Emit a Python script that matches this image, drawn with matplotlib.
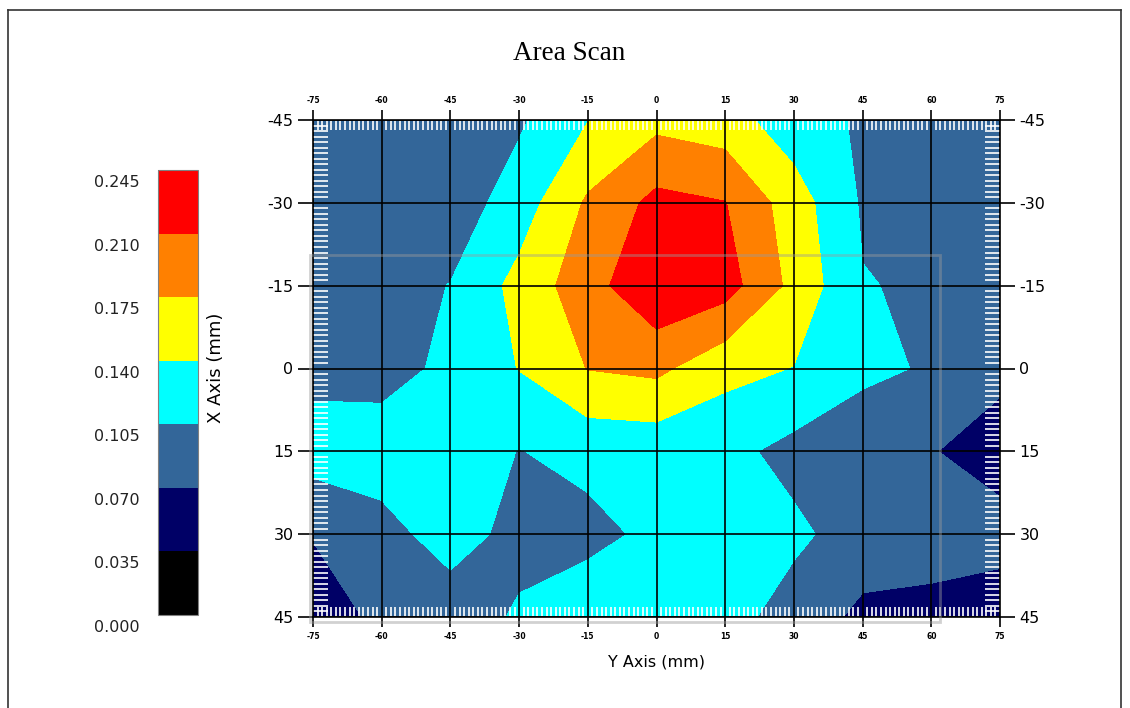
import numpy as np
import matplotlib
matplotlib.use("Agg")
from matplotlib import pyplot as plt
from matplotlib.ticker import MultipleLocator
from matplotlib.lines import Line2D
from matplotlib.patches import Rectangle

plt.rcParams['axes.unicode_minus'] = False

# scan positions (mm)
y_pos = [-75, -60, -45, -30, -15, 0, 15, 30, 45, 60, 75]
x_pos = [-45, -30, -15, 0, 15, 30, 45]

# measured values, one row per X position
row_m45 = [0.080, 0.085, 0.090, 0.100, 0.139, 0.165, 0.155, 0.120, 0.1006, 0.090, 0.085]
row_m30 = [0.080, 0.082, 0.085, 0.122, 0.180, 0.220, 0.211, 0.157, 0.101, 0.090, 0.085]
row_m15 = [0.085, 0.090, 0.106, 0.151, 0.196, 0.240, 0.225, 0.165, 0.1065, 0.1006, 0.090]
row_0 = [0.095, 0.0876, 0.115, 0.141, 0.176, 0.183, 0.150, 0.139, 0.110, 0.1027, 0.0753]
row_15 = [0.1205, 0.129, 0.125, 0.104, 0.115, 0.1165, 0.115, 0.094, 0.090, 0.0711, 0.060]
row_30 = [0.072, 0.0885, 0.125, 0.090, 0.095, 0.1126, 0.125, 0.112, 0.0894, 0.0845, 0.0781]
row_45 = [0.050, 0.078, 0.079, 0.111, 0.127, 0.125, 0.118, 0.090, 0.062, 0.060, 0.0585]

levels = [0.0, 0.035, 0.070, 0.105, 0.140, 0.175, 0.210, 0.245]
colors = ['#000000', '#000066', '#336699', '#00ffff', '#ffff00', '#ff8000', '#ff0000']

Z = np.array([row_m45, row_m30, row_m15, row_0, row_15, row_30, row_45])

W, H = 1130, 708
fig = plt.figure(figsize=(W / 100, H / 100), dpi=100)

def fx(px):
    return px / W

def fy(py):
    return 1 - py / H

ax = fig.add_axes([fx(313), fy(617), fx(1000) - fx(313), fy(120) - fy(617)])
cf = ax.contourf(y_pos, x_pos, Z, levels=levels, colors=colors)
ax.set_xlim(-75, 75)
ax.set_ylim(45, -45)

ax.set_xticks(y_pos)
ax.set_yticks(x_pos)
ax.xaxis.set_minor_locator(MultipleLocator(1))
ax.yaxis.set_minor_locator(MultipleLocator(1))
ax.grid(True, which='major', color='black', linewidth=1.2)
ax.set_axisbelow(False)
for s in ax.spines.values():
    s.set_linewidth(1.2)
    s.set_zorder(6)

ax.tick_params(axis='x', which='major', direction='out', length=7, width=1.2,
               top=True, bottom=True, labeltop=True, labelbottom=True,
               labelsize=5.5, pad=4)
ax.tick_params(axis='y', which='major', direction='out', length=11, width=1.2,
               left=True, right=True, labelleft=True, labelright=True,
               labelsize=11.5, pad=3)
ax.tick_params(axis='x', which='minor', direction='in', length=7, width=1.2,
               color='white', top=True, bottom=True)
ax.tick_params(axis='y', which='minor', direction='in', length=11, width=1.2,
               color='white', left=True, right=True)
for lab in ax.get_xticklabels():
    lab.set_fontweight('bold')

# colour key on the left
cax = fig.add_axes([fx(158), fy(615), fx(198) - fx(158), fy(170) - fy(615)])
cb = fig.colorbar(cf, cax=cax, ticks=[])
cb.outline.set_edgecolor('#808080')
cb.outline.set_linewidth(0.8)
for v in levels:
    cax.annotate(f'{v:.3f}', xy=(0, v), xycoords=('axes fraction', 'data'),
                 xytext=(-13, -9), textcoords='offset points',
                 ha='right', va='center', fontsize=11.5, color='#222222')

fig.text(0.504, fy(53), 'Area Scan', ha='center', va='center',
         family='Liberation Serif', fontsize=19.5)
fig.text(fx(656), fy(662), 'Y Axis (mm)', ha='center', va='center', fontsize=11.5)
fig.text(fx(216), fy(368), 'X Axis (mm)', ha='center', va='center',
         rotation=90, fontsize=13)

# faint inner frame and outer border
fig.add_artist(Rectangle((fx(310), fy(622)), fx(940) - fx(310), fy(255) - fy(622),
                         transform=fig.transFigure, fill=False,
                         edgecolor='#9a9a9a', linewidth=2, alpha=0.45, zorder=5))
for xs, ys in [([fx(8), fx(8)], [0, fy(10)]),
               ([fx(8), fx(1121)], [fy(10), fy(10)]),
               ([fx(1121), fx(1121)], [fy(10), 0])]:
    fig.add_artist(Line2D(xs, ys, color='#333333', linewidth=1.2))

fig.savefig('out.png', dpi=100)
